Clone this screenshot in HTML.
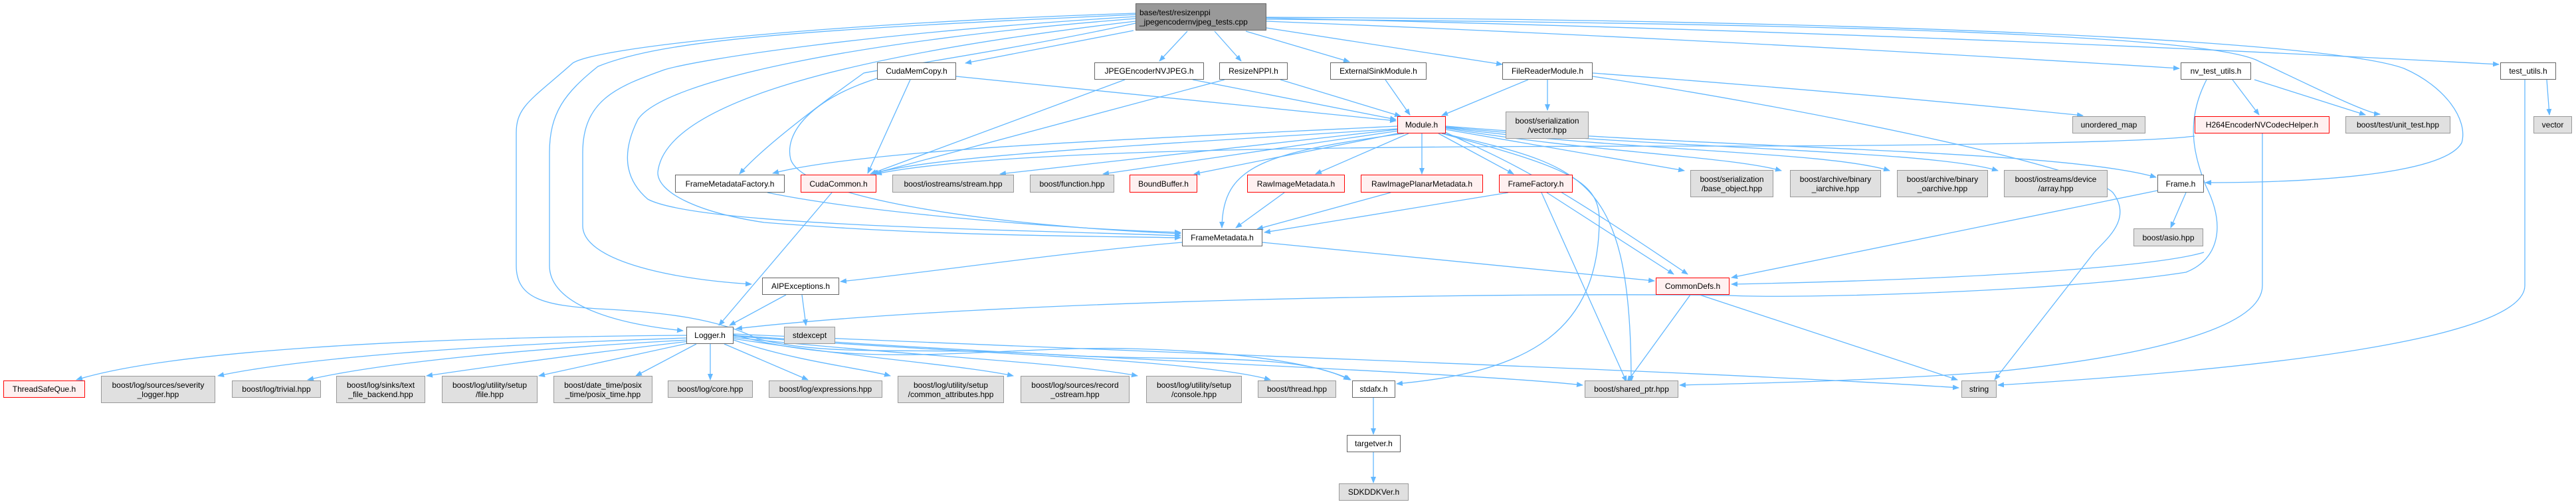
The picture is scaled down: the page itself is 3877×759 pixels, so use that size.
<!DOCTYPE html>
<html><head><meta charset="utf-8"><style>
body{margin:0;width:3877px;height:759px;background:#fff;position:relative;overflow:hidden;font-family:"Liberation Sans",sans-serif}
svg{position:absolute;left:0;top:0}
.n{position:absolute;box-sizing:border-box;border:1px solid #666;background:#fff;display:flex;align-items:center;justify-content:center;text-align:center;font-size:12px;line-height:14px;color:#000;white-space:nowrap}
.g{background:#e0e0e0;border-color:#999}
.r{background:#fff0f0;border-color:#f00}
.root{background:#999;border-color:#666;text-align:left}
</style></head><body>
<svg width="3877" height="759" viewBox="0 0 3877 759">
<defs><marker id="a" markerWidth="10" markerHeight="8" refX="9" refY="4" orient="auto" markerUnits="userSpaceOnUse"><path d="M0,0 L10,4 L0,8 z" fill="#63b8ff"/></marker></defs>
<g fill="none" stroke="#63b8ff" stroke-width="1.3" marker-end="url(#a)">
<path d="M1706,46 L1453,95"/>
<path d="M1787,47 L1745,92"/>
<path d="M1828,47 L1868,92"/>
<path d="M1875,47 L2031,93"/>
<path d="M1906,42 L2261,97"/>
<path d="M1906,32 Q2600,60 3280,103"/>
<path d="M1906,27 Q2900,50 3761,97"/>
<path d="M1906,29 C2700,35 3300,50 3395,90 C3480,130 3560,170 3582,172"/>
<path d="M1906,26 C2800,30 3500,60 3618,103 C3680,130 3715,180 3705,215 C3680,260 3500,275 3319,275"/>
<path d="M1709,35 C1550,70 1350,100 1300,110 C1230,160 1150,220 1113,262"/>
<path d="M1709,20 C1250,35 900,70 862,95 C800,150 777,160 777,200 L777,400 C777,450 820,460 900,465 C1000,470 1080,480 1140,510 C1250,540 1400,520 1600,535 C1800,545 1950,530 2031,572"/>
<path d="M1709,22 C1200,45 1000,60 900,100 C850,140 827,170 827,230 L827,400 C827,450 900,485 1028,498"/>
<path d="M1709,25 C1300,50 1050,90 1000,105 C930,130 877,150 877,230 L877,340 C877,390 1000,420 1131,428"/>
<path d="M1709,28 C1300,60 1000,120 960,180 C935,230 940,270 975,300 C1050,340 1500,345 1777,355"/>
<path d="M1709,32 C1300,80 1000,150 990,260 C990,290 1050,320 1150,335 C1400,355 1600,355 1777,358"/>
<path d="M1439,115 L2101,182"/>
<path d="M1370,120 L1306,261"/>
<path d="M1320,118 C1220,150 1180,200 1190,240 C1210,300 1500,340 1777,352"/>
<path d="M1693,120 L1310,262"/>
<path d="M1843,120 L1312,262"/>
<path d="M1795,120 L2101,180"/>
<path d="M1927,120 L2108,175"/>
<path d="M2085,120 L2122,173"/>
<path d="M2300,120 L2170,174"/>
<path d="M2329,120 L2329,166"/>
<path d="M2397,110 Q2800,140 3135,174"/>
<path d="M2397,115 C2700,160 3140,250 3180,290 C3210,330 3170,360 3152,380 L3002,572"/>
<path d="M2103,190 C1700,210 1300,225 1163,261"/>
<path d="M2103,194 C1700,220 1400,235 1313,262"/>
<path d="M3303,205 C3200,218 2700,220 2600,220 C2000,220 1500,225 1318,262"/>
<path d="M2103,195 L1505,262"/>
<path d="M2105,197 L1660,262"/>
<path d="M2108,200 L1797,262"/>
<path d="M2113,201 C1900,230 1840,250 1839,343"/>
<path d="M2120,201 L1980,262"/>
<path d="M2140,201 L2140,262"/>
<path d="M2165,201 L2278,262"/>
<path d="M2176,195 L2535,257"/>
<path d="M2176,193 C2400,230 2600,235 2681,257"/>
<path d="M2176,192 C2450,228 2750,228 2844,257"/>
<path d="M2176,191 C2500,225 2900,225 3007,257"/>
<path d="M2176,190 C2600,225 3100,225 3245,267"/>
<path d="M2175,199 C2260,240 2300,250 2540,413"/>
<path d="M2172,201 C2380,250 2455,260 2455,575"/>
<path d="M2170,201 C2350,250 2407,270 2407,330 C2407,500 2300,560 2102,578"/>
<path d="M1933,290 L1860,343"/>
<path d="M2093,290 L1892,345"/>
<path d="M2270,290 L1903,350"/>
<path d="M2328,290 L2519,413"/>
<path d="M2320,290 L2448,575"/>
<path d="M1155,290 C1300,320 1600,345 1777,350"/>
<path d="M1252,290 L1082,490"/>
<path d="M1779,365 C1600,380 1400,410 1265,424"/>
<path d="M1900,365 L2490,423"/>
<path d="M3247,287 L2606,418"/>
<path d="M3290,290 L3267,343"/>
<path d="M3360,120 L3400,173"/>
<path d="M3393,120 L3560,173"/>
<path d="M3321,120 C3290,180 3300,230 3320,280 C3350,340 3340,390 3290,410 C3100,440 2700,450 2603,445 C2300,440 1500,450 1108,495"/>
<path d="M3317,380 C3250,400 3000,420 2606,428"/>
<path d="M3405,201 L3405,430 C3405,500 3200,540 3000,560 C2800,575 2600,578 2528,580"/>
<path d="M3833,120 L3837,173"/>
<path d="M3800,120 L3800,430 C3800,500 3500,550 3007,580"/>
<path d="M2558,444 L2946,572"/>
<path d="M2544,444 L2449,575"/>
<path d="M1183,444 L1098,490"/>
<path d="M1207,444 L1213,490"/>
<path d="M1033,505 C600,508 250,530 115,572"/>
<path d="M1033,509 C700,520 450,540 328,566"/>
<path d="M1035,512 C800,525 580,545 463,572"/>
<path d="M1037,514 C900,530 750,550 642,566"/>
<path d="M1040,516 L811,566"/>
<path d="M1048,518 L957,566"/>
<path d="M1069,518 L1069,572"/>
<path d="M1090,518 L1216,572"/>
<path d="M1104,512 C1200,545 1300,555 1340,566"/>
<path d="M1104,510 C1300,540 1450,550 1525,566"/>
<path d="M1104,508 C1350,535 1600,545 1712,566"/>
<path d="M1104,506 C1400,530 1800,540 1912,572"/>
<path d="M1104,504 C1300,560 1500,520 1700,525 C1900,530 2000,555 2033,572"/>
<path d="M1104,505 C1600,540 2200,560 2382,580"/>
<path d="M1104,503 C1700,530 2600,560 2948,584"/>
<path d="M2067,599 L2067,654"/>
<path d="M2067,681 L2067,727"/>
</g></svg>
<div class="n root" style="left:1709px;top:5px;width:197px;height:41px;padding-left:5px;justify-content:flex-start">base/test/resizenppi<br>_jpegencodernvjpeg_tests.cpp</div>
<div class="n" style="left:1320px;top:94px;width:119px;height:26px">CudaMemCopy.h</div>
<div class="n" style="left:1647px;top:94px;width:165px;height:26px">JPEGEncoderNVJPEG.h</div>
<div class="n" style="left:1835px;top:94px;width:103px;height:26px">ResizeNPPI.h</div>
<div class="n" style="left:2002px;top:94px;width:145px;height:26px">ExternalSinkModule.h</div>
<div class="n" style="left:2261px;top:94px;width:136px;height:26px">FileReaderModule.h</div>
<div class="n" style="left:3282px;top:94px;width:106px;height:26px">nv_test_utils.h</div>
<div class="n" style="left:3763px;top:94px;width:84px;height:26px">test_utils.h</div>
<div class="n r" style="left:2103px;top:175px;width:73px;height:26px">Module.h</div>
<div class="n g" style="left:2266px;top:168px;width:125px;height:41px">boost/serialization<br>/vector.hpp</div>
<div class="n g" style="left:3119px;top:175px;width:110px;height:26px">unordered_map</div>
<div class="n r" style="left:3303px;top:175px;width:203px;height:26px">H264EncoderNVCodecHelper.h</div>
<div class="n g" style="left:3530px;top:175px;width:158px;height:26px">boost/test/unit_test.hpp</div>
<div class="n g" style="left:3813px;top:175px;width:58px;height:26px">vector</div>
<div class="n" style="left:1016px;top:263px;width:165px;height:27px">FrameMetadataFactory.h</div>
<div class="n r" style="left:1205px;top:263px;width:114px;height:27px">CudaCommon.h</div>
<div class="n g" style="left:1343px;top:263px;width:183px;height:27px">boost/iostreams/stream.hpp</div>
<div class="n g" style="left:1550px;top:263px;width:127px;height:27px">boost/function.hpp</div>
<div class="n r" style="left:1700px;top:263px;width:102px;height:27px">BoundBuffer.h</div>
<div class="n r" style="left:1877px;top:263px;width:147px;height:27px">RawImageMetadata.h</div>
<div class="n r" style="left:2048px;top:263px;width:184px;height:27px">RawImagePlanarMetadata.h</div>
<div class="n r" style="left:2256px;top:263px;width:111px;height:27px">FrameFactory.h</div>
<div class="n g" style="left:2544px;top:256px;width:125px;height:41px">boost/serialization<br>/base_object.hpp</div>
<div class="n g" style="left:2694px;top:256px;width:137px;height:41px">boost/archive/binary<br>_iarchive.hpp</div>
<div class="n g" style="left:2855px;top:256px;width:137px;height:41px">boost/archive/binary<br>_oarchive.hpp</div>
<div class="n g" style="left:3016px;top:256px;width:156px;height:41px">boost/iostreams/device<br>/array.hpp</div>
<div class="n" style="left:3247px;top:263px;width:70px;height:27px">Frame.h</div>
<div class="n g" style="left:3211px;top:344px;width:105px;height:27px">boost/asio.hpp</div>
<div class="n" style="left:1779px;top:345px;width:121px;height:26px">FrameMetadata.h</div>
<div class="n" style="left:1147px;top:418px;width:116px;height:26px">AIPExceptions.h</div>
<div class="n r" style="left:2492px;top:418px;width:111px;height:26px">CommonDefs.h</div>
<div class="n" style="left:1033px;top:492px;width:71px;height:26px">Logger.h</div>
<div class="n g" style="left:1180px;top:492px;width:77px;height:26px">stdexcept</div>
<div class="n r" style="left:5px;top:573px;width:123px;height:26px">ThreadSafeQue.h</div>
<div class="n g" style="left:152px;top:566px;width:172px;height:41px">boost/log/sources/severity<br>_logger.hpp</div>
<div class="n g" style="left:349px;top:573px;width:134px;height:26px">boost/log/trivial.hpp</div>
<div class="n g" style="left:506px;top:566px;width:134px;height:41px">boost/log/sinks/text<br>_file_backend.hpp</div>
<div class="n g" style="left:665px;top:566px;width:144px;height:41px">boost/log/utility/setup<br>/file.hpp</div>
<div class="n g" style="left:833px;top:566px;width:149px;height:41px">boost/date_time/posix<br>_time/posix_time.hpp</div>
<div class="n g" style="left:1005px;top:573px;width:128px;height:26px">boost/log/core.hpp</div>
<div class="n g" style="left:1157px;top:573px;width:171px;height:26px">boost/log/expressions.hpp</div>
<div class="n g" style="left:1351px;top:566px;width:160px;height:41px">boost/log/utility/setup<br>/common_attributes.hpp</div>
<div class="n g" style="left:1536px;top:566px;width:164px;height:41px">boost/log/sources/record<br>_ostream.hpp</div>
<div class="n g" style="left:1725px;top:566px;width:144px;height:41px">boost/log/utility/setup<br>/console.hpp</div>
<div class="n g" style="left:1893px;top:573px;width:118px;height:26px">boost/thread.hpp</div>
<div class="n" style="left:2035px;top:573px;width:65px;height:26px">stdafx.h</div>
<div class="n g" style="left:2385px;top:573px;width:141px;height:26px">boost/shared_ptr.hpp</div>
<div class="n g" style="left:2952px;top:573px;width:53px;height:26px">string</div>
<div class="n" style="left:2027px;top:655px;width:81px;height:26px">targetver.h</div>
<div class="n g" style="left:2015px;top:728px;width:105px;height:26px">SDKDDKVer.h</div>
</body></html>
